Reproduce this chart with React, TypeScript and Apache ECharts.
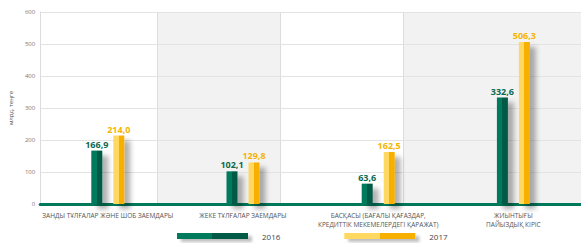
import React, { useEffect, useRef } from "react";
import * as echarts from "echarts";

const categories = [
  "ЗАНДЫ ТҰЛҒАЛАР ЖӘНЕ ШОБ ЗАЕМДАРЫ",
  "ЖЕКЕ ТҰЛҒАЛАР ЗАЕМДАРЫ",
  "БАСҚАСЫ (БАҒАЛЫ ҚАҒАЗДАР,\nКРЕДИТТІК МЕКЕМЕЛЕРДЕГІ ҚАРАЖАТ)",
  "ЖИЫНТЫҒЫ\nПАЙЫЗДЫҚ КІРІС",
];
const values2016 = [166.9, 102.1, 63.6, 332.6];
const values2017 = [214.0, 129.8, 162.5, 506.3];
const seriesNames = ["2016", "2017"];

const fmt = (v: number) => v.toFixed(1).replace(".", ",");

const twoTone = (a: string, b: string) =>
  new echarts.graphic.LinearGradient(0, 0, 1, 0, [
    { offset: 0, color: a },
    { offset: 0.5, color: a },
    { offset: 0.5, color: b },
    { offset: 1, color: b },
  ]);

export default function App() {
  const ref = useRef<HTMLDivElement>(null);
  useEffect(() => {
    if (!ref.current) return;
    const chart = echarts.init(ref.current, null, { renderer: "svg" });
    const font = "'Open Sans', 'Noto Sans', sans-serif";
    const barShadow = {
      shadowColor: "rgba(0,0,0,0.3)",
      shadowBlur: 5,
      shadowOffsetX: 6,
      shadowOffsetY: 5,
    };
    chart.setOption({
      animation: false,
      textStyle: { fontFamily: font },
      grid: { left: 38, right: 0, top: 12, bottom: 39, containLabel: false },
      graphic: [
        { type: "rect", z: -10, shape: { x: 157, y: 12, width: 123, height: 192 }, style: { fill: "#f2f2f2" } },
        { type: "rect", z: -10, shape: { x: 403, y: 12, width: 178, height: 192 }, style: { fill: "#f2f2f2" } },
        { type: "line", z: -9, shape: { x1: 157.5, y1: 12, x2: 157.5, y2: 204 }, style: { stroke: "#dcdcdc", lineWidth: 1 } },
        { type: "line", z: -9, shape: { x1: 280.5, y1: 12, x2: 280.5, y2: 204 }, style: { stroke: "#dcdcdc", lineWidth: 1 } },
        { type: "line", z: -9, shape: { x1: 403.5, y1: 12, x2: 403.5, y2: 204 }, style: { stroke: "#dcdcdc", lineWidth: 1 } },
      ],
      legend: {
        data: seriesNames,
        left: 177,
        top: 232,
        padding: 0,
        icon: "rect",
        itemWidth: 71,
        itemHeight: 6,
        itemGap: 64,
        textStyle: { fontSize: 8, color: "#444", fontFamily: font, padding: [0, 0, 0, 9] },
        itemStyle: { shadowColor: "rgba(0,0,0,0.25)", shadowBlur: 3, shadowOffsetX: 4, shadowOffsetY: 3 },
      },
      xAxis: {
        type: "category",
        data: categories,
        axisLine: { show: true, lineStyle: { color: "#00785a", width: 3 } },
        axisTick: { show: false },
        axisLabel: {
          interval: 0,
          fontSize: 6.5,
          color: "#555",
          lineHeight: 9,
          margin: 7,
          fontFamily: font,
        },
      },
      yAxis: {
        type: "value",
        min: 0,
        max: 600,
        interval: 100,
        name: "млрд. теңге",
        nameLocation: "middle",
        nameRotate: 90,
        nameGap: 21,
        nameTextStyle: { fontSize: 6, color: "#555", fontFamily: font },
        axisLine: { show: true, lineStyle: { color: "#dcdcdc", width: 1 } },
        axisTick: { show: false },
        axisLabel: { fontSize: 6, color: "#777", margin: 5, fontFamily: font },
        splitLine: { show: true, lineStyle: { color: "#e3e3e3", width: 1 } },
      },
      series: [
        {
          name: seriesNames[0],
          type: "bar",
          data: values2016,
          barWidth: 11,
          barGap: "100%",
          itemStyle: { color: twoTone("#007a5c", "#005a44"), ...barShadow },
          label: {
            show: true,
            position: "top",
            distance: 2,
            formatter: (p: any) => fmt(p.value),
            fontSize: 9,
            fontWeight: "bold",
            color: "#0b6a50",
            fontFamily: font,
          },
        },
        {
          name: seriesNames[1],
          type: "bar",
          data: values2017,
          barWidth: 11,
          itemStyle: { color: twoTone("#ffd862", "#f7b000"), ...barShadow },
          label: {
            show: true,
            position: "top",
            distance: 2,
            formatter: (p: any) => fmt(p.value),
            fontSize: 9,
            fontWeight: "bold",
            color: "#f5b400",
            fontFamily: font,
          },
        },
      ],
    });
    return () => chart.dispose();
  }, []);
  return <div ref={ref} style={{ width: 581, height: 243, position: "absolute", left: 0, top: 0 }} />;
}
